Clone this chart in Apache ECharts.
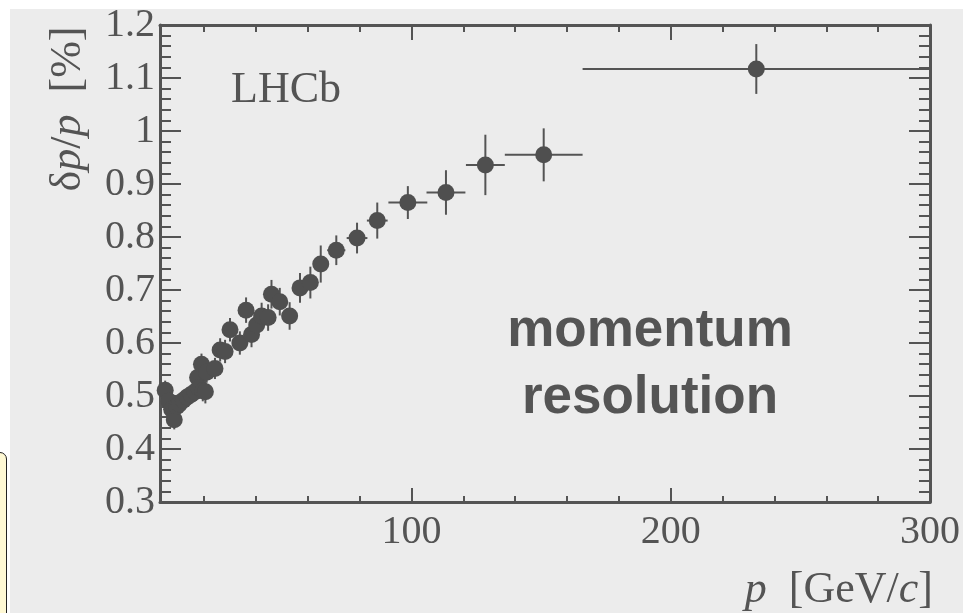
<!DOCTYPE html>
<html>
<head>
<meta charset="utf-8">
<script src="https://cdn.jsdelivr.net/npm/echarts@6/dist/echarts.min.js"></script>
<style>
  html, body { margin: 0; padding: 0; background: #ffffff; }
  #wrap { position: relative; width: 963px; height: 613px; overflow: hidden; }
  #panel { position: absolute; left: 10px; top: 9px; right: 0; bottom: 0; background: #ececec; }
  #note { position: absolute; left: -20px; top: 452px; width: 25px; height: 200px;
          background: #fff9d4; border: 1.5px solid #222; border-radius: 7px; }
  #chart { position: absolute; left: 0; top: 0; width: 963px; height: 613px; }
</style>
</head>
<body>
<div id="wrap">
  <div id="panel"></div>
  <div id="note"></div>
  <div id="chart"></div>
</div>
<script>
// Momentum p [GeV/c] of each bin centre
const momentum = [
  5.0, 6.5, 7.5, 8.5, 9.5, 10.5, 12.0, 13.5, 15.0, 16.5,
  17.5, 18.0, 19.0, 19.5, 20.5, 21.0, 24.2, 26.2, 28.1, 30.0,
  33.8, 36.2, 38.3, 40.3, 42.2, 44.7, 46.0, 49.2, 53.0, 57.0,
  61.0, 65.0, 71.0, 79.0, 86.8, 98.6, 113.3, 128.5, 151.0, 233.0
];
// Relative momentum resolution dp/p [%]
const resolution = [
  0.511, 0.490, 0.475, 0.455, 0.480, 0.485, 0.492, 0.498, 0.503, 0.508,
  0.535, 0.515, 0.560, 0.510, 0.508, 0.545, 0.552, 0.587, 0.584, 0.625,
  0.600, 0.662, 0.616, 0.634, 0.651, 0.648, 0.692, 0.678, 0.651, 0.704,
  0.714, 0.749, 0.775, 0.798, 0.831, 0.865, 0.884, 0.936, 0.955, 1.117
];
// Half bin width in p
const momentumErr = [
  0.5, 0.5, 0.5, 0.5, 0.5, 0.5, 0.5, 0.5, 0.5, 0.5,
  0.5, 0.5, 0.5, 0.5, 0.5, 0.5, 1.0, 1.0, 1.0, 1.0,
  1.5, 1.5, 1.5, 1.5, 1.5, 1.5, 1.5, 1.5, 1.5, 2.0,
  2.0, 2.5, 3.5, 4.0, 4.0, 7.5, 7.5, 7.5, 15.0, 67.0
];
// Uncertainty on dp/p
const resolutionErr = [
  0.018, 0.018, 0.018, 0.018, 0.018, 0.018, 0.018, 0.018, 0.018, 0.018,
  0.020, 0.020, 0.020, 0.020, 0.022, 0.020, 0.020, 0.022, 0.022, 0.022,
  0.022, 0.024, 0.024, 0.024, 0.025, 0.025, 0.027, 0.026, 0.026, 0.028,
  0.030, 0.035, 0.028, 0.029, 0.034, 0.031, 0.042, 0.057, 0.050, 0.047
];

const xMajorTicks = [100, 200, 300];
const xMinorTicks = [20, 40, 60, 80, 120, 140, 160, 180, 220, 240, 260, 280];

const INK = '#545454';
const SERIF = '"Liberation Serif", "Times New Roman", serif';

const points = momentum.map((p, i) => [p, resolution[i], momentumErr[i], resolutionErr[i]]);

function xAxisDef(position, ticks, len, withLine, withLabel) {
  return {
    type: 'value', position: position, min: 3, max: 300,
    axisLine: { show: withLine, lineStyle: { color: INK, width: 3 } },
    axisTick: { show: true, inside: true, length: len, customValues: ticks,
                lineStyle: { color: INK, width: 2 } },
    axisLabel: withLabel
      ? { show: true, customValues: ticks, margin: 10, color: INK,
          fontFamily: SERIF, fontSize: 40 }
      : { show: false },
    splitLine: { show: false }
  };
}

function yAxisDef(position, withLabel) {
  return {
    type: 'value', position: position, min: 0.3, max: 1.2, interval: 0.1,
    axisLine: { show: true, lineStyle: { color: INK, width: 3 } },
    axisTick: { show: true, inside: true, length: 21, lineStyle: { color: INK, width: 2 } },
    minorTick: { show: true, splitNumber: 5, length: 11, lineStyle: { color: INK, width: 2 } },
    axisLabel: withLabel
      ? { show: true, margin: 5, color: INK, fontFamily: SERIF, fontSize: 40 }
      : { show: false },
    splitLine: { show: false },
    minorSplitLine: { show: false }
  };
}

const chart = echarts.init(document.getElementById('chart'), null, { renderer: 'canvas' });

chart.setOption({
  animation: false,
  backgroundColor: 'transparent',
  grid: { left: 160, right: 32, top: 25, bottom: 111, containLabel: false },
  xAxis: [
    xAxisDef('bottom', xMajorTicks, 14, true, true),
    xAxisDef('bottom', xMinorTicks, 6, false, false),
    xAxisDef('top', xMajorTicks, 15, true, false),
    xAxisDef('top', xMinorTicks, 7, false, false)
  ],
  yAxis: [
    yAxisDef('left', true),
    yAxisDef('right', false)
  ],
  series: [
    {
      type: 'custom',
      xAxisIndex: 0, yAxisIndex: 0,
      encode: { x: 0, y: 1 },
      data: points,
      z: 3,
      renderItem: function (params, api) {
        const p = api.value(0), v = api.value(1), ex = api.value(2), ey = api.value(3);
        const l = api.coord([p - ex, v]), r = api.coord([p + ex, v]);
        const t = api.coord([p, v + ey]), b = api.coord([p, v - ey]);
        const st = { stroke: INK, lineWidth: 2 };
        return {
          type: 'group',
          children: [
            { type: 'line', shape: { x1: l[0], y1: l[1], x2: r[0], y2: r[1] }, style: st },
            { type: 'line', shape: { x1: t[0], y1: t[1], x2: b[0], y2: b[1] }, style: st }
          ]
        };
      }
    },
    {
      type: 'scatter',
      xAxisIndex: 0, yAxisIndex: 0,
      data: points.map(d => [d[0], d[1]]),
      symbol: 'circle',
      symbolSize: 17,
      z: 4,
      itemStyle: { color: '#4f4f4f', opacity: 1 }
    }
  ],
  graphic: [
    {
      type: 'text', left: 231, top: 68,
      style: { text: 'LHCb', font: '44px ' + SERIF, fill: INK }
    },
    {
      type: 'text', x: 650, y: 365,
      style: {
        text: 'momentum\nresolution', align: 'center', verticalAlign: 'middle',
        font: 'bold 53px "Liberation Sans", Arial, sans-serif', lineHeight: 67, fill: INK
      }
    },
    {
      type: 'text', x: 68, y: 109, rotation: Math.PI / 2,
      style: {
        text: '{n|δ}{i|p}{n|/}{i|p}{n|  [%]}', align: 'center', verticalAlign: 'middle',
        fill: INK,
        rich: {
          n: { font: '44px ' + SERIF, fill: INK },
          i: { font: 'italic 44px ' + SERIF, fill: INK }
        }
      }
    },
    {
      type: 'text', x: 933, y: 590,
      style: {
        text: '{i|p}{n|  [GeV/}{i|c}{n|]}', align: 'right', verticalAlign: 'middle',
        fill: INK,
        rich: {
          n: { font: '44px ' + SERIF, fill: INK },
          i: { font: 'italic 44px ' + SERIF, fill: INK }
        }
      }
    }
  ]
});
</script>
</body>
</html>
